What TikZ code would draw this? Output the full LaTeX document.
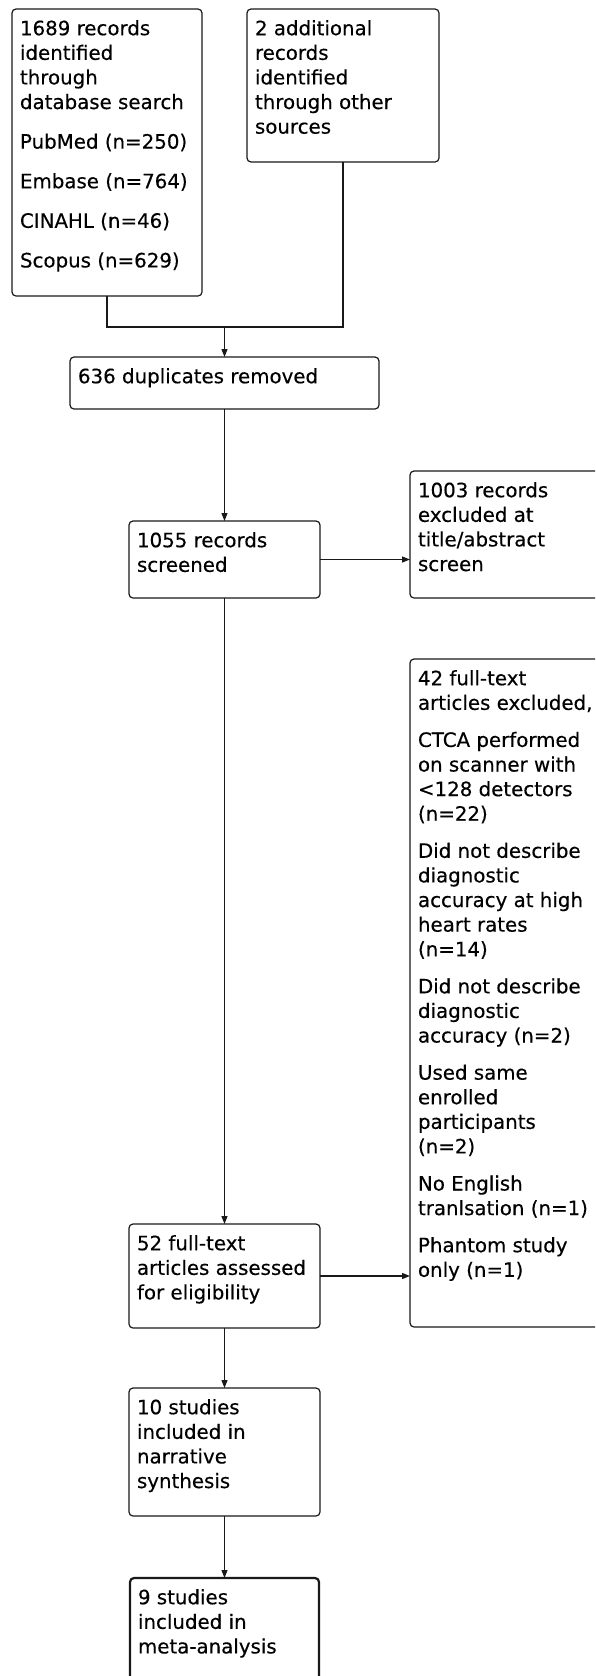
\documentclass[tikz,border=0pt]{standalone}
\usepackage{fontspec}
\setmainfont{DejaVu Sans}[FakeBold=0.35]
\usetikzlibrary{arrows.meta}

% top-aligned text block: #1 width, #2 height, #3 lines
\newcommand{\boxbody}[3]{\parbox[t][#2][t]{#1}{\raggedright\strut#3}}
\newcommand{\pgap}{\\[12.5pt]}
\newcommand{\wgap}{\\[15pt]}

\begin{document}
\begin{tikzpicture}[x=1pt,y=1pt,
  box/.style={draw=black!90, line width=1.2pt, rounded corners=4pt, fill=white,
    anchor=north west, inner xsep=8pt, inner ysep=9pt, outer sep=0pt,
    font=\fontsize{19.8}{24.6}\selectfont, text=black},
  finalbox/.style={box, line width=2.2pt},
  link/.style={draw=black!90, line width=1.2pt},
  arrowlink/.style={link, -{Triangle[length=8pt,width=6pt]}}
]
\useasboundingbox (0,0) rectangle (595,-1676);
\clip (0,0) rectangle (595,-1676);
\fill[white] (0,0) rectangle (595,-1676);

% identification
\node[box] (b1) at (12,-9) {\boxbody{174pt}{269pt}{1689 records\\identified\\through\\database search\wgap PubMed (n=250)\wgap Embase (n=764)\wgap CINAHL (n=46)\wgap Scopus (n=629)}};
\node[box] (b2) at (247,-9) {\boxbody{176pt}{135pt}{2 additional\\records\\identified\\through other\\sources}};

% screening
\node[box] (b3) at (70,-357) {\boxbody{293pt}{34pt}{636 duplicates removed}};
\node[box] (b4) at (129,-521) {\boxbody{175pt}{59pt}{1055 records\\screened}};
\node[box] (b5) at (410,-471) {\boxbody{184pt}{109pt}{1003 records\\excluded at\\title/abstract\\screen}};

% eligibility
\node[box] (b6) at (410,-659) {\boxbody{184pt}{650pt}{42 full-text\\articles excluded,\pgap CTCA performed\\on scanner with\\<128 detectors\\(n=22)\pgap Did not describe\\diagnostic\\accuracy at high\\heart rates\\(n=14)\pgap Did not describe\\diagnostic\\accuracy (n=2)\pgap Used same\\enrolled\\participants\\(n=2)\pgap No English\\tranlsation (n=1)\pgap Phantom study\\only (n=1)}};
\node[box] (b7) at (129,-1224) {\boxbody{175pt}{86pt}{52 full-text\\articles assessed\\for eligibility}};

% included
\node[box] (b8) at (129,-1388) {\boxbody{175pt}{110pt}{10 studies\\included in\\narrative\\synthesis}};
\node[finalbox] (b9) at (130,-1578) {\boxbody{173pt}{102pt}{9 studies\\included in\\meta-analysis}};

% connectors
\coordinate (jn) at (b3.north |- 0,-327);
\draw[link] (b1.south) |- (jn);
\draw[link] (b2.south) |- (jn);
\draw[arrowlink] (jn) -- (b3.north);
\draw[arrowlink] (b3.south) -- (b4.north);
\draw[arrowlink] (b4.east) -- (b4.east -| b5.west);
\draw[arrowlink] (b4.south) -- (b7.north);
\draw[arrowlink] (b7.east) -- (b7.east -| b6.west);
\draw[arrowlink] (b7.south) -- (b8.north);
\draw[arrowlink] (b8.south) -- (b9.north);
\end{tikzpicture}
\end{document}
